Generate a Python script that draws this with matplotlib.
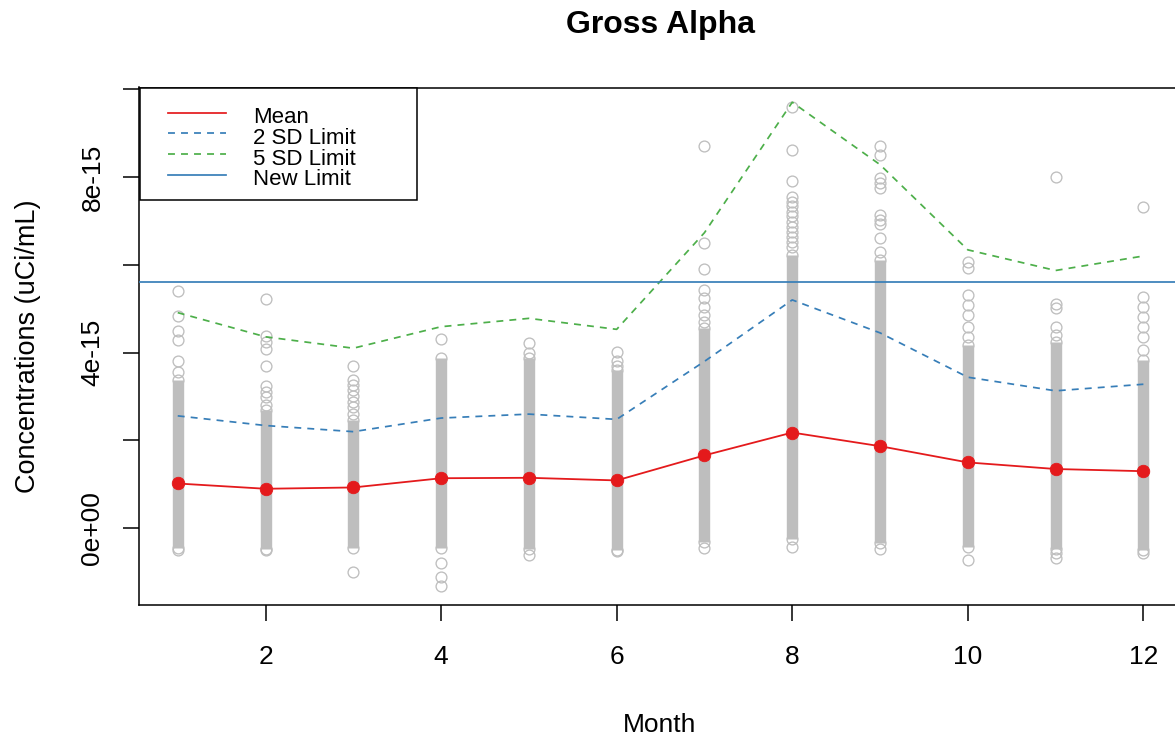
import matplotlib
matplotlib.use("Agg")
import matplotlib.pyplot as plt
from matplotlib.patches import Rectangle
from matplotlib.lines import Line2D

plt.rcParams['font.family'] = ['Liberation Sans', 'DejaVu Sans']

W, H = 1175, 740
SCALE = 1e-15  # concentrations below are in units of 1e-15 uCi/mL

months = [1, 2, 3, 4, 5, 6, 7, 8, 9, 10, 11, 12]

mean_conc = [1.02, 0.90, 0.93, 1.14, 1.15, 1.09, 1.66, 2.18, 1.87, 1.50, 1.35, 1.30]
limit_2sd = [2.56, 2.34, 2.20, 2.51, 2.60, 2.48, 3.80, 5.20, 4.45, 3.44, 3.13, 3.28]
limit_5sd = [4.91, 4.36, 4.10, 4.59, 4.78, 4.53, 6.73, 9.70, 8.28, 6.34, 5.87, 6.20]
new_limit = 5.61

# span of the densely overlapping samples in each month
band_low = [-0.45, -0.47, -0.45, -0.45, -0.46, -0.49, -0.32, -0.25, -0.34, -0.42, -0.46, -0.50]
band_high = [3.38, 2.69, 2.47, 3.87, 3.87, 3.60, 4.56, 6.22, 6.11, 4.18, 4.25, 3.83]

# samples that stand apart from the dense span
m01_points = [5.41, 4.84, 4.50, 4.29, 3.82, 3.55, -0.50]
m02_points = [5.22, 4.37, 4.25, 4.08, 3.70, 3.23, 3.11, 2.98, 2.80, -0.50]
m03_points = [3.70, 3.38, 3.26, 3.15, 3.01, 2.88, 2.77, 2.60, -1.00]
m04_points = [4.30, -0.80, -1.10, -1.31]
m05_points = [4.21, 3.99, -0.61]
m06_points = [4.02, 3.81, 3.70, -0.52]
m07_points = [8.70, 6.49, 5.90, 5.43, 5.24, 5.05, 4.86, 4.70, -0.44]
m08_points = [9.60, 8.62, 7.91, 7.55, 7.44, 7.33, 7.21, 7.10, 6.98, 6.87,
              6.75, 6.64, 6.53, 6.41, -0.43]
m09_points = [8.71, 8.50, 7.97, 7.86, 7.75, 7.14, 7.03, 6.92, 6.61, 6.30, -0.46]
m10_points = [6.07, 5.92, 5.31, 5.09, 4.86, 4.59, 4.36, -0.72]
m11_points = [8.00, 5.11, 5.02, 4.59, 4.40, -0.57, -0.68]
m12_points = [7.31, 5.26, 5.05, 4.82, 4.59, 4.36, 4.06, -0.56]

month_points = [m01_points, m02_points, m03_points, m04_points, m05_points, m06_points,
                m07_points, m08_points, m09_points, m10_points, m11_points, m12_points]

y_ticks_major = [0, 4, 8]
y_tick_labels = ['0e+00', '4e-15', '8e-15']
y_ticks_minor = [2, 6, 10]
x_ticks = [2, 4, 6, 8, 10, 12]

legend_labels = ['Mean', '2 SD Limit', '5 SD Limit', 'New Limit']

RED = '#E41A1C'
BLUE = '#377EB8'
GREEN = '#4DAF4A'
GREY = '#BEBEBE'


def fig_xy(xp, yp):
    return xp / W, 1 - yp / H


fig = plt.figure(figsize=(W / 100, H / 100), dpi=100)
ax_left, ax_right, ax_top, ax_bottom = 139.1, 1182.0, 87.5, 605.0
ax = fig.add_axes([ax_left / W, 1 - ax_bottom / H,
                   (ax_right - ax_left) / W, (ax_bottom - ax_top) / H])

# all samples: dense spans plus the separate points
all_x, all_y = [], []
for m, lo, hi, pts in zip(months, band_low, band_high, month_points):
    for v in [lo, hi] + pts:
        all_x.append(m)
        all_y.append(v * SCALE)

ax.vlines(months, [v * SCALE for v in band_low], [v * SCALE for v in band_high],
          colors=GREY, linewidth=8.2, capstyle='butt', zorder=2)
ax.plot(all_x, all_y, linestyle='none', marker='o', ms=7.8, mfc='none',
        mec=GREY, mew=0.95, zorder=2)

dash = (4.0, 3.5)
ax.plot(months, [v * SCALE for v in limit_2sd], color=BLUE, lw=1.25,
        linestyle=(0, dash), zorder=3)
ax.plot(months, [v * SCALE for v in limit_5sd], color=GREEN, lw=1.25,
        linestyle=(0, dash), zorder=3)
ax.axhline(new_limit * SCALE, color=BLUE, lw=1.25, zorder=3)
ax.plot(months, [v * SCALE for v in mean_conc], color=RED, lw=1.3, zorder=4)
ax.plot(months, [v * SCALE for v in mean_conc], linestyle='none', marker='o',
        ms=9.0, mfc=RED, mec=RED, mew=0.6, zorder=4)

# R-style 4% padding around the data
xpad = 0.04 * (months[-1] - months[0])
ax.set_xlim(months[0] - xpad, months[-1] + xpad)
ymin, ymax = min(all_y), max(all_y)
ypad = 0.04 * (ymax - ymin)
ax.set_ylim(ymin - ypad, ymax + ypad)

ax.set_xticks(x_ticks)
ax.set_xticklabels([str(t) for t in x_ticks])
ax.set_yticks([v * SCALE for v in y_ticks_major])
ax.set_yticklabels(y_tick_labels, rotation=90, va='center')
ax.set_yticks([v * SCALE for v in y_ticks_minor], minor=True)
ax.tick_params(which='both', direction='out', length=11.5, width=1.1, color='black')
ax.tick_params(axis='x', labelsize=19, pad=17)
ax.tick_params(axis='y', labelsize=19, pad=13.5)
for s in ax.spines.values():
    s.set_linewidth(1.1)

fig.text(*fig_xy(660, 25), 'Gross Alpha', ha='center', va='center',
         fontsize=23, fontweight='bold')
fig.text(*fig_xy(660, 725), 'Month', ha='center', va='center', fontsize=19)
fig.text(*fig_xy(28, 346), 'Concentrations (uCi/mL)', ha='center', va='center',
         rotation=90, fontsize=19.5)

# legend box in the top-left corner of the plot region
bx0, by0 = fig_xy(140, 200)
bx1, by1 = fig_xy(417, 88)
fig.add_artist(Rectangle((bx0, by0), bx1 - bx0, by1 - by0, transform=fig.transFigure,
                         facecolor='white', edgecolor='black', linewidth=1.1, zorder=5))
styles = [(RED, '-'), (BLUE, (0, dash)), (GREEN, (0, dash)), (BLUE, '-')]
for i, (label, (col, ls)) in enumerate(zip(legend_labels, styles)):
    cap_mid = 115 + i * 20.8
    ly = cap_mid - 2.5
    x0, y0 = fig_xy(168, ly)
    x1, _ = fig_xy(226, ly)
    fig.add_artist(Line2D([x0, x1], [y0, y0], transform=fig.transFigure, color=col,
                          lw=1.25, linestyle=ls, zorder=6))
    tx, ty = fig_xy(253, cap_mid + 8.0)
    fig.text(tx, ty, label, ha='left', va='baseline', fontsize=16, zorder=6)

fig.savefig('out.png', dpi=100)
